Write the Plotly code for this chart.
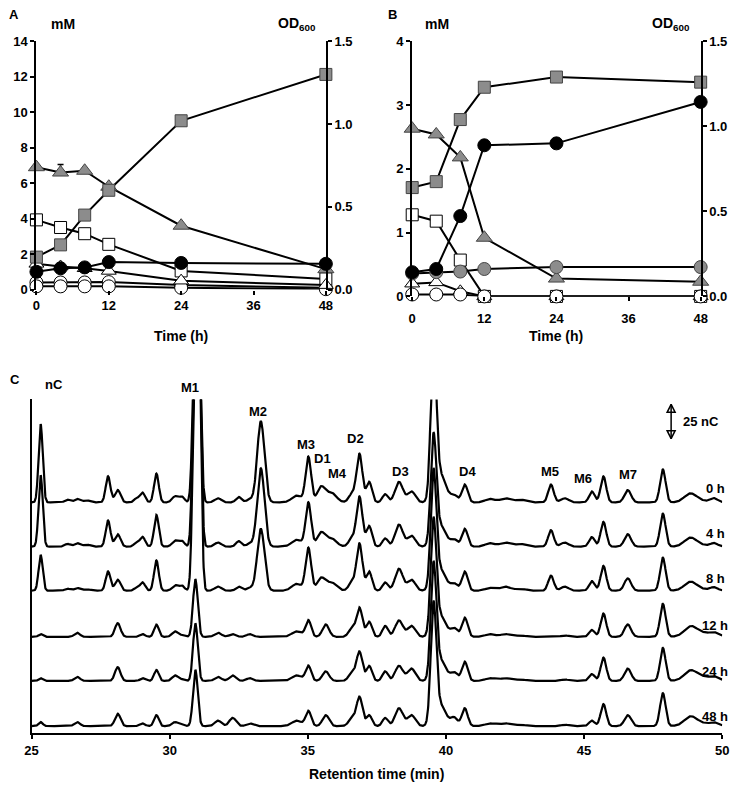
import numpy as np
import plotly.graph_objects as go

W, H = 742, 792
def px(x):
    return x / W
def py(y):
    return 1 - y / H

FONT = "Liberation Sans, Arial, sans-serif"
GRAY = "#8c8c8c"

# ---------------- data: panels A and B ----------------
time_h = [0, 4, 8, 12, 24, 48]

a_od600 = [0.196, 0.27, 0.45, 0.60, 1.02, 1.30]
a_gray_tri = [6.9, 6.6, 6.7, 5.8, 3.6, 1.15]
a_gray_tri_err = [0, 0.45, 0, 0, 0, 0]
a_white_sq = [3.93, 3.5, 3.15, 2.55, 1.05, 0.6]
a_black_circ = [1.0, 1.2, 1.25, 1.55, 1.5, 1.45]
a_white_tri = [1.45, 1.3, 1.2, 1.05, 0.5, 0.25]
a_white_circ1 = [0.4, 0.4, 0.4, 0.42, 0.25, 0.1]
a_white_circ2 = [0.18, 0.18, 0.18, 0.18, 0.1, 0.02]

b_od600 = [0.64, 0.675, 1.04, 1.23, 1.29, 1.26]
b_gray_tri = [2.63, 2.54, 2.18, 0.92, 0.28, 0.23]
b_black_circ = [0.38, 0.43, 1.26, 2.37, 2.40, 3.05]
b_gray_circ = [0.36, 0.38, 0.39, 0.43, 0.46, 0.46]
b_white_sq = [1.28, 1.18, 0.57, 0, 0, 0]
b_white_tri = [0.2, 0.22, 0.08, 0, 0, 0]
b_white_circ = [0.03, 0.03, 0.03, 0, 0, 0]

# ---------------- data: panel C (peak tables) ----------------
peak_rt = [25.33, 26.3, 26.65, 27.0, 27.77, 28.12, 28.8, 29.02, 29.52, 30.2,
           30.45, 30.93, 31.07, 31.75, 32.28, 32.5, 32.9, 33.3, 34.6, 35.02,
           35.48, 35.65, 35.85, 36.6, 36.87, 37.22, 37.8, 38.3, 38.75, 39.55,
           39.8, 40.3, 40.68, 41.6, 42.15, 42.7, 43.8, 44.3, 45.28, 45.7,
           46.58, 47.85, 48.85, 49.3, 49.7]
peak_sigma = [0.075, 0.1, 0.1, 0.12, 0.085, 0.1, 0.09, 0.09, 0.085, 0.11,
              0.09, 0.085, 0.075, 0.12, 0.12, 0.1, 0.12, 0.13, 0.18, 0.1,
              0.14, 0.12, 0.18, 0.12, 0.105, 0.1, 0.1, 0.14, 0.14, 0.1,
              0.2, 0.12, 0.105, 0.18, 0.18, 0.18, 0.1, 0.14, 0.1, 0.1,
              0.12, 0.1, 0.22, 0.45, 0.12]
h_0h = [57, 2, 2.5, 1.5, 19, 9, 3, 7, 21, 4.5,
        4, 150, 100, 3, 0, 4, 2, 59, 5, 33,
        11, 0, 7, 6, 35, 15, 6, 15, 8, 110,
        20, 5, 13, 2.5, 3, 2, 13, 3, 8, 19,
        9, 24, 6, 1, 2.5]
h_4h = [52, 2, 2.5, 1.5, 19, 9, 3, 7, 23, 4.5,
        4, 180, 140, 3, 0, 4, 2, 57, 5, 32,
        10, 0, 6, 6, 36, 15, 6, 16, 8, 76,
        15, 5, 13, 2.5, 3, 2, 12, 3, 7, 18,
        9, 24, 6, 1, 2]
h_8h = [26, 1.5, 2, 1, 14, 8, 2, 6, 22, 4,
        3.5, 200, 160, 3, 0, 3, 2, 45, 5, 31,
        9, 0, 6, 6, 34, 14, 6, 16, 8, 82,
        15, 5, 14, 2, 3, 1.5, 11, 3, 7, 18,
        9, 24, 6, 1, 2]
h_12h = [2, 0, 3, 0, 0, 10, 0, 2, 9, 4,
         1, 42, 0, 3, 2, 0, 2, 0, 4, 12,
         0, 9, 0, 6, 21, 11, 8, 12, 8, 80,
         15, 6, 14, 2, 2, 1, 0, 1, 5, 17,
         9, 24, 6, 3, 1.5]
h_24h = [2, 0, 3, 0, 0, 10, 0, 2, 8, 4,
         1, 42, 0, 3, 4, 0, 2, 0, 4, 11,
         0, 7, 0, 6, 21, 11, 7, 11, 9, 80,
         15, 6, 14, 2, 2, 1, 0, 1, 5, 17,
         9, 24, 6, 3, 1.5]
h_48h = [3, 0, 3, 0, 0, 9, 0, 2, 8, 3,
         1, 41, 0, 4, 6, 0, 2, 0, 4, 11,
         0, 8, 0, 6, 21, 8, 6, 13, 8, 84,
         15, 6, 13, 2, 2, 1, 0, 1, 4, 16,
         8, 24, 6, 2, 1.5]
trace_labels = ["0 h", "4 h", "8 h", "12 h", "24 h", "48 h"]
trace_heights = [h_0h, h_4h, h_8h, h_12h, h_24h, h_48h]
trace_offset = [162.9, 130.7, 98.6, 65.0, 32.9, 0.0]   # nC stacking offsets
scale_bar_nC = 25

fig = go.Figure()

def add_series(x, y, xa, ya, symbol, fill, size, line_col="black", err=None):
    kw = {}
    if err is not None:
        kw["error_y"] = dict(type="data", array=err, arrayminus=[0]*len(err),
                             color="black", thickness=1.5, width=3)
    fig.add_trace(go.Scatter(
        x=x, y=y, xaxis=xa, yaxis=ya, mode="lines+markers",
        line=dict(color="black", width=2),
        marker=dict(symbol=symbol, size=size, color=fill,
                    line=dict(color=line_col, width=1)),
        cliponaxis=False, showlegend=False, hoverinfo="skip", **kw))

# Panel A
add_series(time_h, a_white_circ1, "x", "y", "circle", "white", 13)
add_series(time_h, a_white_circ2, "x", "y", "circle", "white", 13)
add_series(time_h, a_white_sq, "x", "y", "square", "white", 12)
add_series(time_h, a_white_tri, "x", "y", "triangle-up", "white", 13)
add_series(time_h, a_gray_tri, "x", "y", "triangle-up", GRAY, 14, "#444", a_gray_tri_err)
add_series(time_h, a_black_circ, "x", "y", "circle", "black", 13)
add_series(time_h, a_od600, "x", "y2", "square", GRAY, 12, "#444")

# Panel B
add_series(time_h, b_white_sq, "x2", "y3", "square", "white", 12)
add_series(time_h, b_white_tri, "x2", "y3", "triangle-up", "white", 13)
add_series(time_h, b_white_circ, "x2", "y3", "circle", "white", 13)
add_series(time_h, b_gray_tri, "x2", "y3", "triangle-up", GRAY, 14, "#444")
add_series(time_h, b_gray_circ, "x2", "y3", "circle", GRAY, 13, "#444")
add_series(time_h, b_black_circ, "x2", "y3", "circle", "black", 13)
add_series(time_h, b_od600, "x2", "y4", "square", GRAY, 12, "#444")

# Panel C
rt_grid = np.linspace(25, 50, 2501)
rt_arr = np.array(peak_rt)
sg_arr = np.array(peak_sigma)
for lab, hts, off in zip(trace_labels, trace_heights, trace_offset):
    hh = np.array(hts, dtype=float)
    sig = off + (hh[None, :] * np.exp(-0.5 * ((rt_grid[:, None] - rt_arr[None, :]) / sg_arr[None, :]) ** 2)).sum(axis=1)
    fig.add_trace(go.Scatter(x=rt_grid, y=sig, xaxis="x3", yaxis="y5", mode="lines",
                             line=dict(color="black", width=2.2), showlegend=False,
                             hoverinfo="skip"))

# 25 nC scale bar, drawn in the chromatogram's own data units
bar_top = 234.3
fig.add_trace(go.Scatter(x=[48.15, 48.15], y=[bar_top - scale_bar_nC, bar_top],
                         xaxis="x3", yaxis="y5", mode="lines+markers",
                         line=dict(color="black", width=1.5),
                         marker=dict(symbol=["arrow-down-open", "arrow-up-open"], size=8,
                                     color="black", line=dict(color="black", width=1.5)),
                         cliponaxis=False, showlegend=False, hoverinfo="skip"))

tickfont = dict(family=FONT, size=13, color="black", weight="bold")
common_axis = dict(showgrid=False, zeroline=False, tickfont=tickfont,
                   linecolor="black", tickcolor="black", fixedrange=True)

fig.update_layout(
    width=W, height=H, margin=dict(l=0, r=0, t=0, b=0),
    paper_bgcolor="white", plot_bgcolor="rgba(0,0,0,0)",
    font=dict(family=FONT, color="black"),
    xaxis=dict(domain=[px(30), px(325)], range=[0, 48], tickvals=[0, 12, 24, 36, 48],
               anchor="y", showline=False, ticks="outside", ticklen=4, tickwidth=2,
               **common_axis),
    yaxis=dict(domain=[py(288), py(35)], range=[0, 14], dtick=2, anchor="x",
               showline=True, linewidth=2, ticks="outside", ticklen=4, tickwidth=2,
               **common_axis),
    yaxis2=dict(overlaying="y", side="right", anchor="x", range=[0, 1.5],
                tickvals=[0, 0.5, 1.0, 1.5], tickformat=".1f",
                showline=True, linewidth=2, ticks="outside", ticklen=4, tickwidth=2,
                **common_axis),
    xaxis2=dict(domain=[px(413), px(707)], range=[0, 48], tickvals=[0, 12, 24, 36, 48],
                anchor="y3", showline=False, ticks="outside", ticklen=4, tickwidth=2,
                ticklabelstandoff=6, **common_axis),
    yaxis3=dict(domain=[py(295), py(35)], range=[0, 4], dtick=1, anchor="x2",
                showline=True, linewidth=2, ticks="outside", ticklen=4, tickwidth=2,
                **common_axis),
    yaxis4=dict(overlaying="y3", side="right", anchor="x2", range=[0, 1.5],
                tickvals=[0, 0.5, 1.0, 1.5], tickformat=".1f",
                showline=True, linewidth=2, ticks="outside", ticklen=4, tickwidth=2,
                **common_axis),
    xaxis3=dict(domain=[px(25), px(729)], range=[25, 50], dtick=5, anchor="y5",
                showline=True, linewidth=2, ticks="outside", ticklen=4, tickwidth=2,
                **common_axis),
    yaxis5=dict(domain=[py(740), py(400)], range=[-5, 237.9], anchor="x3",
                showline=True, linewidth=2, ticks="", showticklabels=False,
                **common_axis),
)

def label(x, y, text, size=13, xanchor="center"):
    fig.add_annotation(x=px(x), y=py(y), xref="paper", yref="paper", text=text,
                       showarrow=False, xanchor=xanchor, yanchor="middle",
                       font=dict(family=FONT, size=size, color="black", weight="bold"))

# panel letters and axis titles
label(7, 8, "A", 13)
label(393, 8, "B", 13)
label(8, 380, "C", 13)
label(57, 17, "mM", 14)
label(296, 17, "OD<sub>600</sub>", 14)
label(438, 17, "mM", 14)
label(677, 17, "OD<sub>600</sub>", 14)
label(177, 335, "Time (h)", 14)
label(560, 335, "Time (h)", 14)
label(377, 782, "Retention time (min)", 14)

# peak labels
peak_labels = [("nC", 48, 385), ("M1", 187, 388), ("M2", 256, 412), ("M3", 305, 446),
               ("D1", 322, 460), ("M4", 337, 476), ("D2", 355, 440), ("D3", 401, 473),
               ("D4", 469, 473), ("M5", 553, 473), ("M6", 587, 481), ("M7", 633, 477)]
for t, x, y in peak_labels:
    label(x, y, t, 13)

# trace labels
trace_label_y = [491, 537, 583, 630, 677, 723]
for t, y in zip(trace_labels, trace_label_y):
    label(722, y, t, 13)

label(707, 423, "25 nC", 13)

fig.write_html("out.html",
               config={"displayModeBar": False, "staticPlot": True},
               post_script="document.documentElement.style.margin='0px';"
                           "document.body.style.margin='0px';"
                           "document.body.style.overflow='hidden';")
